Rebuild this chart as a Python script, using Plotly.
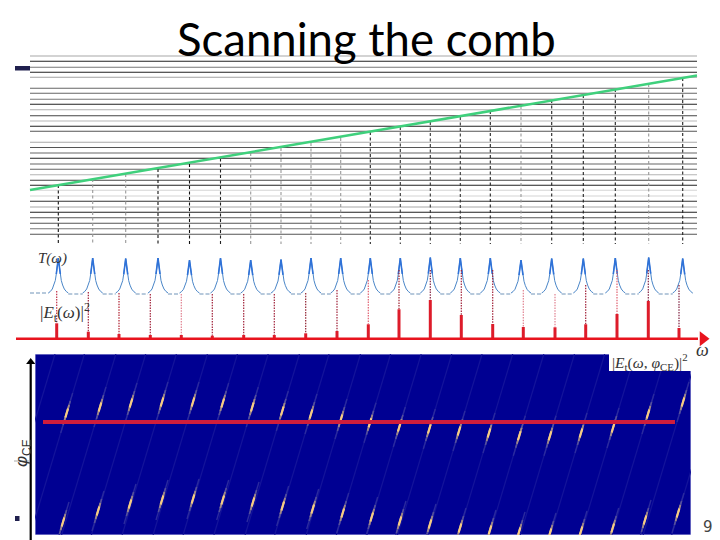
import plotly.graph_objects as go

# ---------- data (pixel-calibrated axes) ----------
title_text = "Scanning the comb"
grid_y = [56, 61.3, 67.3, 72.3, 77.3, 88.3, 93.3, 99.3, 104.3, 109.7, 115.7, 121, 126.3, 131.3,
          142.3, 147.5, 153, 158.3, 164, 169.3, 174.7, 180.2, 185.3, 190.3, 196, 201.3, 207,
          212.3, 217.7, 223.3, 228.7, 234.3]
grid_colors = ["#a8a8a8", "#222222", "#777777", "#222222", "#a0a0a0", "#666666", "#666666", "#777777",
               "#222222", "#b0b0b0", "#444444", "#b8b8b8", "#222222", "#555555", "#a8a8a8", "#555555",
               "#666666", "#222222", "#666666", "#666666", "#b4b4b4", "#444444", "#222222", "#d4d4d4",
               "#d4d4d4", "#333333", "#a8a8a8", "#222222", "#555555", "#555555", "#777777", "#555555"]
green_x = [30, 697]
green_y = [190, 75.5]

comb_x = [58.3, 92.7, 125.7, 158, 189.5, 220.5, 250.7, 281, 311, 340.7, 370.3,
          400.3, 430.3, 460.3, 490.3, 521, 551.7, 583.3, 615.3, 648.7, 682.7]
comb_top = [185, 179, 174, 169, 164, 158.5, 153, 148, 143, 138, 132,
            127, 122, 117, 111, 106, 100, 95, 89, 84, 78]
comb_colors = ["#111111", "#999999", "#999999", "#111111", "#111111", "#222222", "#999999", "#999999",
               "#999999", "#999999", "#222222", "#333333", "#333333", "#333333", "#222222", "#999999",
               "#222222", "#222222", "#222222", "#999999", "#222222"]

peak_top = [258, 258, 258.5, 258, 260, 258, 260, 259.5, 258, 258, 258,
            258, 257.5, 258, 258, 260, 258.5, 258.5, 258, 257.5, 258.5]
peak_offsets = [-10, -8, -6, -4.3, -3, -2, -1, 0, 1, 2, 3, 4.3, 6, 8, 10]
peak_drop = [35, 33.5, 31, 27, 22.5, 16, 8, 0, 8, 16, 22.5, 27, 31, 33.5, 35]
t_start, t_end, t_base = 30, 693, 294

stick_x = [56.7, 88.3, 119, 150.3, 181.3, 212.3, 243.7, 274.3, 305.7, 337, 368.3,
           399, 430.3, 461.3, 492.7, 523.3, 555, 585.7, 617, 648.3, 679]
stick_top = [323.3, 331.7, 334, 335, 335, 335.7, 335, 335, 333.3, 331, 324.3,
             309.3, 300, 315, 324, 327, 327.3, 324.3, 314, 301, 328]
dot_top = [291, 292, 293, 294, 294, 294, 294, 294, 293, 290, 280,
           270, 270, 270, 270, 290, 294, 285, 270, 270, 285]
dot_colors = ["#c03048", "#a02038", "#b02030", "#a02038", "#e08090", "#a02038", "#a02038", "#a02038",
              "#902030", "#a02038", "#e06070", "#a02030", "#802040", "#a02038", "#a02038", "#e08090",
              "#e08090", "#a02038", "#e06070", "#802040", "#802040"]
red_axis_x = [16, 698]
red_axis_y = 338.7
red_head = [703]

top_x = [66.7, 100, 131, 162, 193, 222.7, 252.3, 282.3, 311, 341, 370, 399.3,
         429.3, 459, 489, 519.3, 550, 581, 613, 648, 683]
top_y = [413, 407, 403, 402, 402, 403, 407, 411, 414, 419, 422.7, 427,
         429, 431, 433, 435.7, 435.7, 433, 428, 414, 402]
bottom_x = [63, 98, 130, 162, 193, 222.7, 253, 282.7, 312.7, 342.7, 371.7, 400,
            430, 460, 490, 519, 550, 581, 612.7, 645, 678]
bottom_y = [522, 511, 504, 500, 499, 500, 502, 506, 509, 513, 517, 521,
            524, 528, 530, 532, 533, 531, 528, 520, 513]
faint_extra_x = [55, 726]     # streak positions on the top edge of the map
streak_slope = 0.30

map_left, map_right, map_top, map_bottom = 35, 691, 354, 535
scan_x = [43, 675]
scan_y = [422, 422]
phi_axis_x = [30.7, 30.7]
phi_axis_y = [540, 364]
phi_head = [362]

# ---------- helpers ----------
def segs(pairs):
    xs, ys = [], []
    for (x0, y0, x1, y1) in pairs:
        xs += [x0, x1, None]
        ys += [y0, y1, None]
    return xs, ys

fig = go.Figure()

def add(x, y, color, width, dash="solid", main=True, mode="lines"):
    fig.add_trace(go.Scatter(x=x, y=y, mode=mode, hoverinfo="skip", showlegend=False,
                             line=dict(color=color, width=width, dash=dash),
                             xaxis="x" if main else "x2", yaxis="y" if main else "y2"))

# horizontal comb of modes
for y, c in zip(grid_y, grid_colors):
    add([30, 697], [y, y], c, 1.1)

# vertical dashed lines
for x, t, c in zip(comb_x, comb_top, comb_colors):
    add([x, x], [t, 244], c, 1.1, dash="3px,2.5px")

# green line
add(green_x, green_y, "#3fd07c", 2.6)

# T(omega) curve
tx, ty = [], []
for px, pt in zip(comb_x, peak_top):
    for o, d in zip(peak_offsets, peak_drop):
        tx.append(px + o)
        ty.append(pt + d * (t_base - pt) / 36)
    tx.append(None)
    ty.append(None)
add(tx, ty, "#4a86c8", 1.0)
hx, hy = [], []
for px, pt in zip(comb_x, peak_top):
    for o, d in zip(peak_offsets[5:10], peak_drop[5:10]):
        hx.append(px + o)
        hy.append(pt + d * (t_base - pt) / 36)
    hx.append(None)
    hy.append(None)
add(hx, hy, "#2f72d8", 1.6)
vpairs = []
for i, px in enumerate(comb_x):
    if i == 0:
        vpairs.append((t_start, t_base - 1, px - 10, t_base - 1))
    else:
        vpairs.append((comb_x[i - 1] + 10, t_base, px - 10, t_base))
vpairs.append((comb_x[-1] + 10, t_base - 1, t_end, t_base - 1))
vx, vy = segs(vpairs)
add(vx, vy, "#6f93b8", 1, dash="4px,2px")

# dotted red connectors, sticks, axis
for x, t0, t1, c in zip(stick_x, dot_top, stick_top, dot_colors):
    add([x, x], [t0, t1], c, 1.2, dash="1.5px,1.2px")
for x, t in zip(stick_x, stick_top):
    add([x, x], [t, red_axis_y], "#dd1c2a", 3.0)
add(red_axis_x, [red_axis_y, red_axis_y], "#e8141e", 2.6)
fig.add_trace(go.Scatter(x=red_head, y=[red_axis_y], mode="markers", hoverinfo="skip", showlegend=False,
                         marker=dict(symbol="triangle-right", size=13, color="#e8141e")))

# phase axis
add(phi_axis_x, phi_axis_y, "#000000", 2.2)
add([14, 30], [461, 461], "#aaaaaa", 1)
fig.add_trace(go.Scatter(x=[phi_axis_x[0]], y=phi_head, mode="markers", hoverinfo="skip", showlegend=False,
                         marker=dict(symbol="triangle-up", size=8, color="#000000")))

# map streaks
def line_through(x, y, half):
    return (x + streak_slope * half, y - half, x - streak_slope * half, y + half)

faint = []
for x, y in zip(top_x, top_y):
    faint.append((x + streak_slope * (y - map_top), map_top, x - streak_slope * (map_bottom - y), map_bottom))
for x in faint_extra_x:
    faint.append((x, map_top, x - streak_slope * (map_bottom - map_top), map_bottom))
fx, fy = segs(faint)
add(fx, fy, "#14149a", 1.2, main=False)

blob_x = top_x + bottom_x
blob_y = top_y + bottom_y
for half, color, width in [(20, "#2a2a9e", 1.4), (12, "#55509c", 1.6), (8, "#a08888", 1.8), (4.5, "#f6cc84", 2.2)]:
    bx, by = segs([line_through(x, y, half) for x, y in zip(blob_x, blob_y)])
    add(bx, by, color, width, main=False)

add(scan_x, scan_y, "#cf1d3c", 4, main=False)

# ---------- layout ----------
def note(text, x, y, size, color="#333333", font="Liberation Serif", style="normal", **kw):
    return dict(text=text, x=x, y=y, xref="x", yref="y", showarrow=False,
                font=dict(family=font, size=size, color=color, style=style), **kw)

annotations = [
    note(title_text, 366, 38, 45.5, color="#000000", font="Lato"),
    note("T(ω)", 52, 258, 15, style="italic"),
    note("|<i>E</i><sub>t</sub>(<i>ω</i>)|<sup>2</sup>", 65, 312, 17),
    note("ω", 702, 350, 18, style="italic"),
    note("|<i>E</i><sub>t</sub>(<i>ω</i>, <i>φ</i><sub>CE</sub>)|<sup>2</sup>", 650, 362, 15.5),
    note("<i>φ</i><sub>CE</sub>", 23, 453, 17, textangle=-90, font="Liberation Sans"),
    note("9", 708, 527, 15, color="#444444", font="DejaVu Sans"),
]

shapes = [
    dict(type="rect", xref="x2", yref="y2", x0=map_left, x1=map_right, y0=map_top, y1=map_bottom,
         fillcolor="#000092", line=dict(color="#c4c4ea", width=1), layer="below"),
    dict(type="rect", xref="x", yref="y", x0=15, x1=30, y0=66, y1=70.5,
         fillcolor="#20204e", line=dict(width=0)),
    dict(type="rect", xref="x", yref="y", x0=15, x1=19.5, y0=516, y1=521,
         fillcolor="#20204e", line=dict(width=0)),
    dict(type="rect", xref="x", yref="y", x0=609, x1=692, y0=354, y1=371,
         fillcolor="#ffffff", line=dict(width=0), layer="above"),
]

hidden = dict(visible=False, showgrid=False, zeroline=False, fixedrange=True)
fig.update_layout(
    width=720, height=540, margin=dict(l=0, r=0, t=0, b=0, pad=0),
    paper_bgcolor="#ffffff", plot_bgcolor="rgba(0,0,0,0)", showlegend=False,
    xaxis=dict(range=[0, 720], domain=[0, 1], **hidden),
    yaxis=dict(range=[540, 0], domain=[0, 1], **hidden),
    xaxis2=dict(range=[map_left, map_right], domain=[map_left / 720, map_right / 720], anchor="y2", **hidden),
    yaxis2=dict(range=[map_bottom, map_top], domain=[1 - map_bottom / 540, 1 - map_top / 540], anchor="x2", **hidden),
    annotations=annotations, shapes=shapes,
)

fig.write_html("out.html", config=dict(displayModeBar=False),
               post_script="document.body.style.margin='0';document.body.style.overflow='hidden';")
